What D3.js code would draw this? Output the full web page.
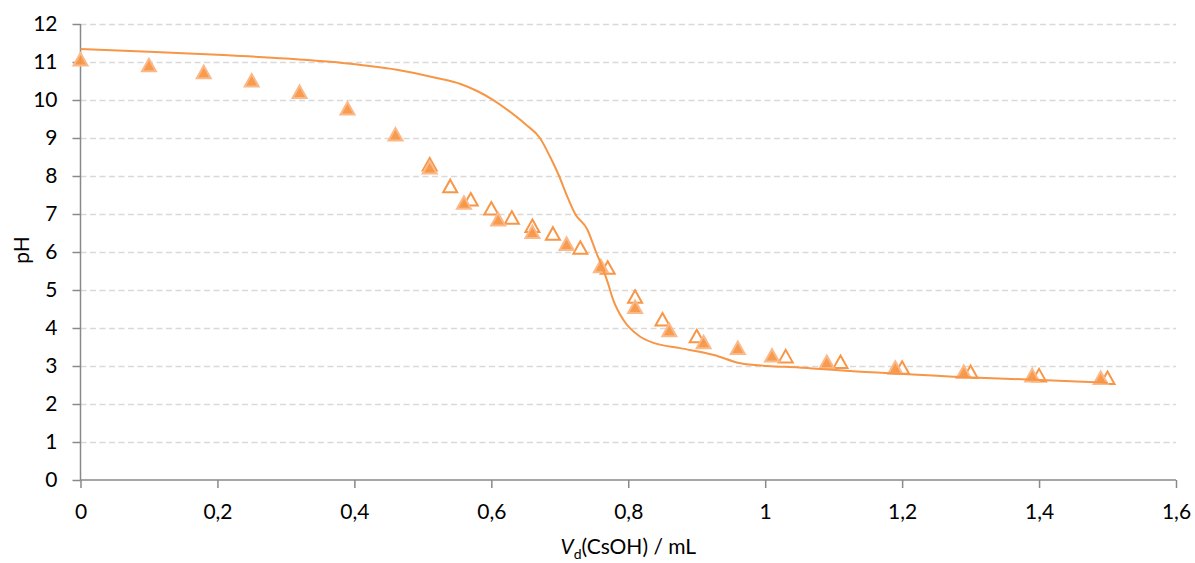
<!DOCTYPE html>
<html>
<head>
<meta charset="utf-8">
<script src="https://cdn.jsdelivr.net/npm/d3@7"></script>
<style>
  html, body { margin: 0; padding: 0; background: #fff; }
  svg { display: block; font-family: Lato, "Open Sans", sans-serif; }
</style>
</head>
<body>
<svg id="chart" width="1195" height="563"></svg>
<script>
// Experimental series 1 (filled triangles)
const filledX = [0, 0.1, 0.18, 0.25, 0.32, 0.39, 0.46, 0.51, 0.56, 0.61, 0.66, 0.71, 0.76, 0.81, 0.86, 0.91, 0.96, 1.01, 1.09, 1.19, 1.29, 1.39, 1.49];
const filledPH = [11.05, 10.9, 10.72, 10.5, 10.2, 9.76, 9.08, 8.21, 7.28, 6.84, 6.51, 6.2, 5.61, 4.54, 3.93, 3.61, 3.46, 3.26, 3.09, 2.94, 2.83, 2.74, 2.67];
// Experimental series 2 (hollow triangles)
const hollowX = [0.51, 0.54, 0.57, 0.6, 0.63, 0.66, 0.69, 0.73, 0.77, 0.81, 0.85, 0.9, 1.03, 1.11, 1.2, 1.3, 1.4, 1.5];
const hollowPH = [8.29, 7.72, 7.37, 7.13, 6.89, 6.67, 6.47, 6.1, 5.57, 4.81, 4.21, 3.77, 3.24, 3.09, 2.94, 2.83, 2.74, 2.67];
// Calculated curve
const curveX = [0, 0.1, 0.2, 0.3, 0.39, 0.46, 0.52, 0.555, 0.58, 0.6, 0.625, 0.65, 0.671, 0.686, 0.699, 0.71, 0.7225, 0.74, 0.753, 0.762, 0.77, 0.778, 0.793, 0.8175, 0.837, 0.876, 0.925, 0.964, 1.003, 1.05, 1.08, 1.275, 1.5];
const curvePH = [11.34, 11.27, 11.19, 11.09, 10.96, 10.8, 10.58, 10.42, 10.23, 10.03, 9.72, 9.36, 9.0, 8.5, 8.0, 7.5, 7.0, 6.6, 6.0, 5.6, 5.2, 4.74, 4.21, 3.77, 3.61, 3.47, 3.29, 3.07, 3.0, 2.96, 2.92, 2.72, 2.56];
// Tick labels
const xTicks = [0, 0.2, 0.4, 0.6, 0.8, 1, 1.2, 1.4, 1.6];
const yTicks = [0, 1, 2, 3, 4, 5, 6, 7, 8, 9, 10, 11, 12];

const svg = d3.select("#chart");
const m = { left: 80.5, right: 1176, top: 24, bottom: 480 };
const x = d3.scaleLinear().domain([0, 1.6]).range([m.left, m.right]);
const y = d3.scaleLinear().domain([0, 12]).range([m.bottom, m.top]);
const orange = "#F79646";
const axisColor = "#898989";
const fmt = d => String(d).replace(".", ",");
const fs = 21;

// gridlines
svg.append("g").selectAll("line").data(yTicks.filter(d => d > 0)).join("line")
  .attr("x1", m.left).attr("x2", m.right)
  .attr("y1", d => Math.round(y(d)) + 0.5).attr("y2", d => Math.round(y(d)) + 0.5)
  .attr("stroke", "#d9d9d9").attr("stroke-width", 1.3).attr("stroke-dasharray", "6,3.5");

// y axis
const yAxis = svg.append("g").attr("transform", `translate(${m.left},0)`)
  .call(d3.axisLeft(y).tickValues(yTicks).tickFormat(fmt).tickSize(8).tickPadding(15));
// x axis
const xAxis = svg.append("g").attr("transform", `translate(0,${m.bottom})`)
  .call(d3.axisBottom(x).tickValues(xTicks).tickFormat(fmt).tickSize(8).tickPadding(16));
[yAxis, xAxis].forEach(g => {
  g.select(".domain").attr("stroke", axisColor).attr("stroke-width", 1.5);
  g.selectAll(".tick line").attr("stroke", axisColor).attr("stroke-width", 1.5);
  g.selectAll(".tick text").attr("fill", "#000").attr("font-size", fs).attr("font-family", "Lato, sans-serif");
});
yAxis.select(".domain").attr("d", `M0,${m.top}V${m.bottom}`);
xAxis.select(".domain").attr("d", `M${m.left},0H${m.right}`);

// axis titles
svg.append("text").attr("transform", `translate(29,${(m.top + m.bottom) / 2 - 2}) rotate(-90)`)
  .attr("text-anchor", "middle").attr("font-size", fs).attr("fill", "#000").text("pH");
const xt = svg.append("text").attr("x", (m.left + m.right) / 2).attr("y", 554)
  .attr("text-anchor", "middle").attr("font-size", fs).attr("fill", "#000");
xt.append("tspan").attr("font-style", "italic").text("V");
xt.append("tspan").attr("font-size", 14).attr("dy", 5).text("d");
xt.append("tspan").attr("dy", -5).text("(CsOH) / mL");

const tri = "M0,-7L7,5.5L-7,5.5Z";

// hollow series
svg.append("g").selectAll("path").data(hollowX.map((d, i) => [d, hollowPH[i]])).join("path")
  .attr("d", tri)
  .attr("transform", d => `translate(${x(d[0])},${y(d[1])})`)
  .attr("fill", "#fff").attr("stroke", orange).attr("stroke-width", 2);

// filled series
svg.append("g").selectAll("path").data(filledX.map((d, i) => [d, filledPH[i]])).join("path")
  .attr("d", tri)
  .attr("transform", d => `translate(${x(d[0])},${y(d[1])})`)
  .attr("fill", orange).attr("fill-opacity", 0.95)
  .attr("stroke", "#FBB98A").attr("stroke-width", 2);

// curve
const line = d3.line().x(d => x(d[0])).y(d => y(d[1])).curve(d3.curveMonotoneX);
svg.append("path").datum(curveX.map((d, i) => [d, curvePH[i]]))
  .attr("d", line).attr("fill", "none").attr("stroke", orange).attr("stroke-width", 2);
</script>
</body>
</html>
